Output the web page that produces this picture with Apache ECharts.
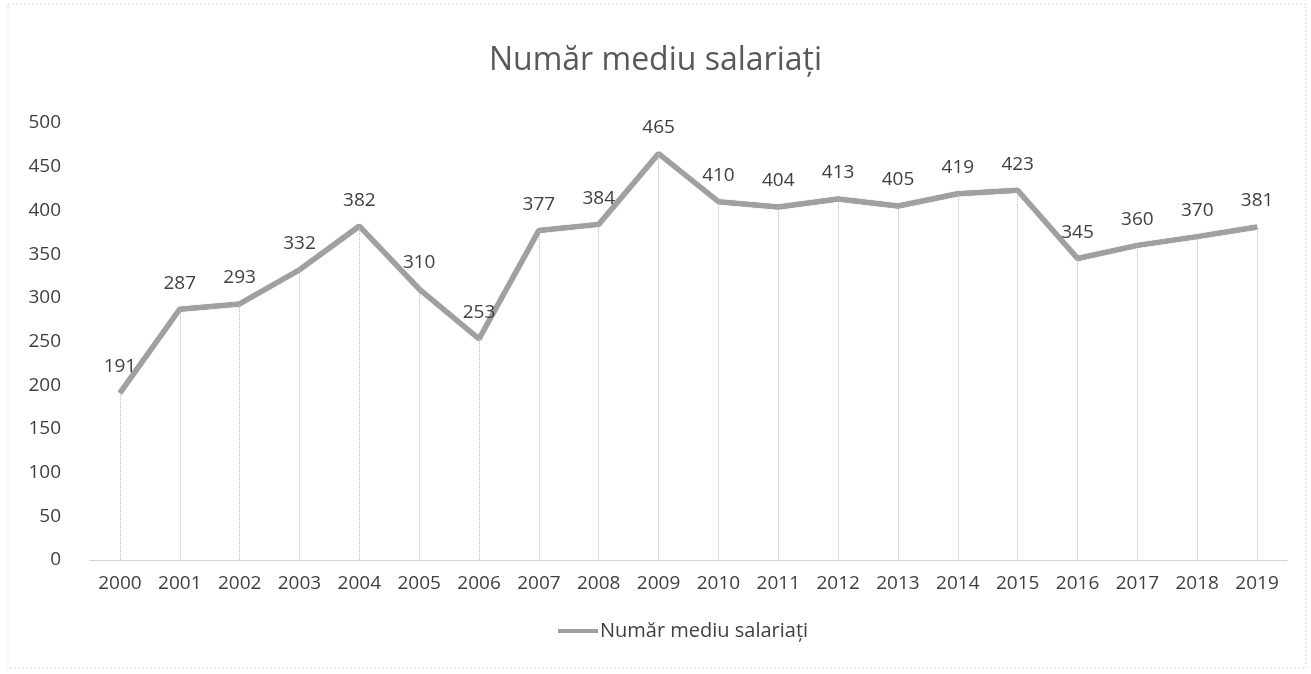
<!DOCTYPE html>
<html>
<head>
<meta charset="utf-8">
<script src="https://cdn.jsdelivr.net/npm/echarts@6/dist/echarts.min.js"></script>
<style>
  html, body { margin: 0; padding: 0; background: #fff; }
  #chart { width: 1311px; height: 674px; }
</style>
</head>
<body>
<div id="chart"></div>
<script>
const years = ['2000', '2001', '2002', '2003', '2004', '2005', '2006', '2007', '2008', '2009',
  '2010', '2011', '2012', '2013', '2014', '2015', '2016', '2017', '2018', '2019'];
const salariati = [191, 287, 293, 332, 382, 310, 253, 377, 384, 465,
  410, 404, 413, 405, 419, 423, 345, 360, 370, 381];
const seriesName = 'Număr mediu salariați';

const chart = echarts.init(document.getElementById('chart'));

// vertical dotted drop lines from each point down to the axis
const dropLines = salariati.map((v, i) => [
  { coord: [i, 0] },
  { coord: [i, v] }
]);

chart.setOption({
  textStyle: { fontFamily: '"Open Sans", sans-serif' },
  title: {
    text: seriesName,
    left: 'center',
    top: 40,
    textStyle: { fontSize: 32, fontWeight: 'normal', color: '#595959' }
  },
  legend: {
    bottom: 28,
    left: 553,
    itemWidth: 40,
    itemHeight: 4,
    itemGap: 4,
    icon: 'rect',
    textStyle: { fontSize: 20, color: '#404040', padding: [0, 0, 0, -3] },
    data: [{ name: seriesName, itemStyle: { color: '#a0a0a0', opacity: 1 } }]
  },
  grid: { left: 90, right: 24, top: 123, bottom: 114 },
  xAxis: {
    type: 'category',
    data: years,
    boundaryGap: true,
    axisLine: { lineStyle: { color: '#c8c8c8', type: 'dotted' } },
    axisTick: { show: false },
    axisLabel: { fontSize: 19, color: '#404040', margin: 14 }
  },
  yAxis: {
    type: 'value',
    min: 0,
    max: 500,
    interval: 50,
    axisLine: { show: false },
    axisTick: { show: false },
    splitLine: { show: false },
    axisLabel: { fontSize: 19, color: '#404040', margin: 29 }
  },
  series: [{
    name: seriesName,
    type: 'line',
    data: salariati,
    symbol: 'circle',
    symbolSize: 1,
    showSymbol: true,
    itemStyle: { color: 'rgba(0,0,0,0)' },
    lineStyle: {
      width: 5,
      color: '#a0a0a0',
      shadowColor: 'rgba(0,0,0,0.55)',
      shadowBlur: 1
    },
    label: {
      show: true,
      position: 'top',
      distance: 16,
      fontSize: 19,
      color: '#404040'
    },
    markLine: {
      silent: true,
      symbol: 'none',
      label: { show: false },
      lineStyle: { color: '#bdbdbd', type: 'dotted', width: 1 },
      data: dropLines
    },
    z: 3
  }],
  graphic: [{
    type: 'rect',
    shape: { x: 8, y: 4, width: 1298, height: 664 },
    style: { fill: 'none', stroke: '#d9d9d9', lineWidth: 1, lineDash: [2, 2] },
    silent: true
  }]
});
</script>
</body>
</html>
